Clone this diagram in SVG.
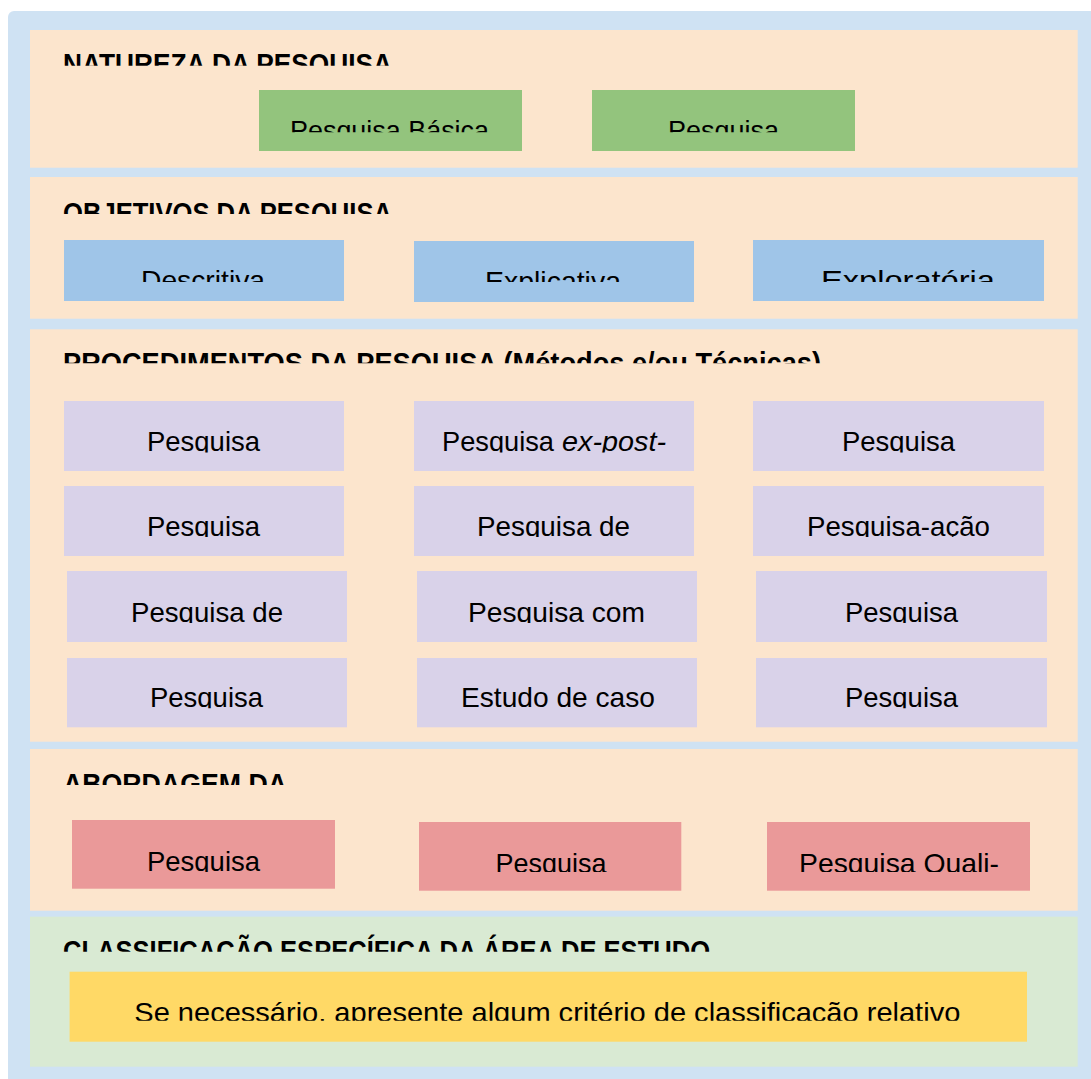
<svg xmlns="http://www.w3.org/2000/svg" width="1091" height="1079" viewBox="0 0 1091 1079">
<style>
.sec{fill:#fce5cd}
.secg{fill:#d9ead3}
.hd{font-family:"Liberation Sans",Arial,sans-serif;font-weight:bold;font-size:29px;fill:#000}
.tx{font-family:"Liberation Sans",Arial,sans-serif;font-size:28.5px;fill:#000}
.gr{fill:#93c47d}
.bl{fill:#9fc5e8}
.pu{fill:#d9d2e9}
.rd{fill:#ea9999}
.ye{fill:#ffd966}
</style>
<defs>
<clipPath id="c1" clipPathUnits="userSpaceOnUse"><rect x="0" y="20" width="1091" height="45.7"/></clipPath>
<clipPath id="c2" clipPathUnits="userSpaceOnUse"><rect x="0" y="90" width="1091" height="42.3"/></clipPath>
<clipPath id="c3" clipPathUnits="userSpaceOnUse"><rect x="0" y="180" width="1091" height="34"/></clipPath>
<clipPath id="c4" clipPathUnits="userSpaceOnUse"><rect x="0" y="240" width="1091" height="42"/></clipPath>
<clipPath id="c5" clipPathUnits="userSpaceOnUse"><rect x="0" y="330" width="1091" height="33.3"/></clipPath>
<clipPath id="c6" clipPathUnits="userSpaceOnUse"><rect x="0" y="401" width="1091" height="51.5"/></clipPath>
<clipPath id="c7" clipPathUnits="userSpaceOnUse"><rect x="0" y="486" width="1091" height="51"/></clipPath>
<clipPath id="c8" clipPathUnits="userSpaceOnUse"><rect x="0" y="571" width="1091" height="52"/></clipPath>
<clipPath id="c9" clipPathUnits="userSpaceOnUse"><rect x="0" y="658" width="1091" height="50.3"/></clipPath>
<clipPath id="c10" clipPathUnits="userSpaceOnUse"><rect x="0" y="750" width="1091" height="35"/></clipPath>
<clipPath id="c11" clipPathUnits="userSpaceOnUse"><rect x="0" y="820" width="1091" height="52"/></clipPath>
<clipPath id="c12" clipPathUnits="userSpaceOnUse"><rect x="0" y="918" width="1091" height="33.7"/></clipPath>
<clipPath id="c13" clipPathUnits="userSpaceOnUse"><rect x="0" y="972" width="1091" height="48.7"/></clipPath>
</defs>

<rect x="8" y="11" width="1100" height="1080" rx="6" fill="#cfe2f3"/>

<g id="natureza">
<rect class="sec" x="30" y="30" width="1047.7" height="137.7"/>
<text class="hd" x="63" y="74" textLength="329" lengthAdjust="spacingAndGlyphs" clip-path="url(#c1)">NATUREZA DA PESQUISA</text>
</g>
<g id="pesquisa-basica">
<rect class="gr" x="259" y="90" width="263" height="61"/>
<text class="tx" x="290" y="140" textLength="199" lengthAdjust="spacingAndGlyphs" clip-path="url(#c2)">Pesquisa Básica</text>
</g>
<g id="pesquisa-aplicada">
<rect class="gr" x="592" y="90" width="263" height="61"/>
<text class="tx" x="668" y="140" textLength="111" lengthAdjust="spacingAndGlyphs" clip-path="url(#c2)">Pesquisa</text>
</g>

<g id="objetivos">
<rect class="sec" x="30" y="177" width="1047.7" height="141.7"/>
<text class="hd" x="63" y="222.5" textLength="329" lengthAdjust="spacingAndGlyphs" clip-path="url(#c3)">OBJETIVOS DA PESQUISA</text>
</g>
<g id="descritiva">
<rect class="bl" x="64" y="240" width="280" height="61"/>
<text class="tx" x="141" y="290" textLength="124" lengthAdjust="spacingAndGlyphs" clip-path="url(#c4)">Descritiva</text>
</g>
<g id="explicativa">
<rect class="bl" x="414" y="241" width="280" height="61"/>
<text class="tx" x="485" y="291" textLength="136" lengthAdjust="spacingAndGlyphs" clip-path="url(#c4)">Explicativa</text>
</g>
<g id="exploratoria">
<rect class="bl" x="753" y="240" width="291" height="61"/>
<text class="tx" x="821" y="290" textLength="174" lengthAdjust="spacingAndGlyphs" clip-path="url(#c4)">Exploratória</text>
</g>

<g id="procedimentos">
<rect class="sec" x="30" y="329.3" width="1047.7" height="412.4"/>
<text class="hd" x="63" y="372.5" textLength="758" lengthAdjust="spacingAndGlyphs" clip-path="url(#c5)">PROCEDIMENTOS DA PESQUISA (Métodos e/ou Técnicas)</text>
</g>
<g id="p-r1c1">
<rect class="pu" x="64" y="401" width="280" height="70"/>
<text class="tx" x="147" y="451.2" textLength="113" lengthAdjust="spacingAndGlyphs" clip-path="url(#c6)">Pesquisa</text>
</g>
<g id="p-r1c2">
<rect class="pu" x="414" y="401" width="280" height="70"/>
<text class="tx" y="451.2" clip-path="url(#c6)"><tspan x="442" textLength="112" lengthAdjust="spacingAndGlyphs">Pesquisa</tspan> <tspan x="562" textLength="104" lengthAdjust="spacingAndGlyphs" font-style="italic">ex-post-</tspan></text>
</g>
<g id="p-r1c3">
<rect class="pu" x="753" y="401" width="291" height="70"/>
<text class="tx" x="842" y="451.2" textLength="113" lengthAdjust="spacingAndGlyphs" clip-path="url(#c6)">Pesquisa</text>
</g>
<g id="p-r2c1">
<rect class="pu" x="64" y="486" width="280" height="70"/>
<text class="tx" x="147" y="536" textLength="113" lengthAdjust="spacingAndGlyphs" clip-path="url(#c7)">Pesquisa</text>
</g>
<g id="p-r2c2">
<rect class="pu" x="414" y="486" width="280" height="70"/>
<text class="tx" x="477" y="536" textLength="153" lengthAdjust="spacingAndGlyphs" clip-path="url(#c7)">Pesquisa de</text>
</g>
<g id="p-r2c3">
<rect class="pu" x="753" y="486" width="291" height="70"/>
<text class="tx" x="807" y="536" textLength="183" lengthAdjust="spacingAndGlyphs" clip-path="url(#c7)">Pesquisa-ação</text>
</g>
<g id="p-r3c1">
<rect class="pu" x="67" y="571" width="280" height="71"/>
<text class="tx" x="131" y="621.7" textLength="152" lengthAdjust="spacingAndGlyphs" clip-path="url(#c8)">Pesquisa de</text>
</g>
<g id="p-r3c2">
<rect class="pu" x="417" y="571" width="280" height="71"/>
<text class="tx" x="468" y="621.7" textLength="177" lengthAdjust="spacingAndGlyphs" clip-path="url(#c8)">Pesquisa com</text>
</g>
<g id="p-r3c3">
<rect class="pu" x="756" y="571" width="291" height="71"/>
<text class="tx" x="845" y="621.7" textLength="113" lengthAdjust="spacingAndGlyphs" clip-path="url(#c8)">Pesquisa</text>
</g>
<g id="p-r4c1">
<rect class="pu" x="67" y="658" width="280" height="69.3"/>
<text class="tx" x="150" y="706.7" textLength="113" lengthAdjust="spacingAndGlyphs" clip-path="url(#c9)">Pesquisa</text>
</g>
<g id="p-r4c2">
<rect class="pu" x="417" y="658" width="280" height="69.3"/>
<text class="tx" x="461" y="706.7" textLength="194" lengthAdjust="spacingAndGlyphs" clip-path="url(#c9)">Estudo de caso</text>
</g>
<g id="p-r4c3">
<rect class="pu" x="756" y="658" width="291" height="69.3"/>
<text class="tx" x="845" y="706.7" textLength="113" lengthAdjust="spacingAndGlyphs" clip-path="url(#c9)">Pesquisa</text>
</g>

<g id="abordagem">
<rect class="sec" x="30" y="749" width="1047.7" height="161.7"/>
<text class="hd" x="63" y="793.5" textLength="224" lengthAdjust="spacingAndGlyphs" clip-path="url(#c10)">ABORDAGEM DA</text>
</g>
<g id="a-quant">
<rect class="rd" x="72" y="820" width="263" height="68.7"/>
<text class="tx" x="147" y="870.7" textLength="113" lengthAdjust="spacingAndGlyphs" clip-path="url(#c11)">Pesquisa</text>
</g>
<g id="a-qual">
<rect class="rd" x="419" y="822" width="262.3" height="68.7"/>
<text class="tx" x="495.5" y="872.5" textLength="111" lengthAdjust="spacingAndGlyphs" clip-path="url(#c11)">Pesquisa</text>
</g>
<g id="a-quali-quanti">
<rect class="rd" x="767" y="822" width="263" height="68.7"/>
<text class="tx" x="799" y="872.5" textLength="200" lengthAdjust="spacingAndGlyphs" clip-path="url(#c11)">Pesquisa Quali-</text>
</g>

<g id="classificacao">
<rect class="secg" x="30" y="916.7" width="1047.7" height="150"/>
<text class="hd" x="63" y="960.5" textLength="647" lengthAdjust="spacingAndGlyphs" clip-path="url(#c12)">CLASSIFICAÇÃO ESPECÍFICA DA ÁREA DE ESTUDO</text>
</g>
<g id="criterio">
<rect class="ye" x="69.6" y="971.7" width="957.4" height="70"/>
<text class="tx" x="134.3" y="1021.5" textLength="826" lengthAdjust="spacingAndGlyphs" clip-path="url(#c13)">Se necessário, apresente algum critério de classificação relativo</text>
</g>
</svg>
